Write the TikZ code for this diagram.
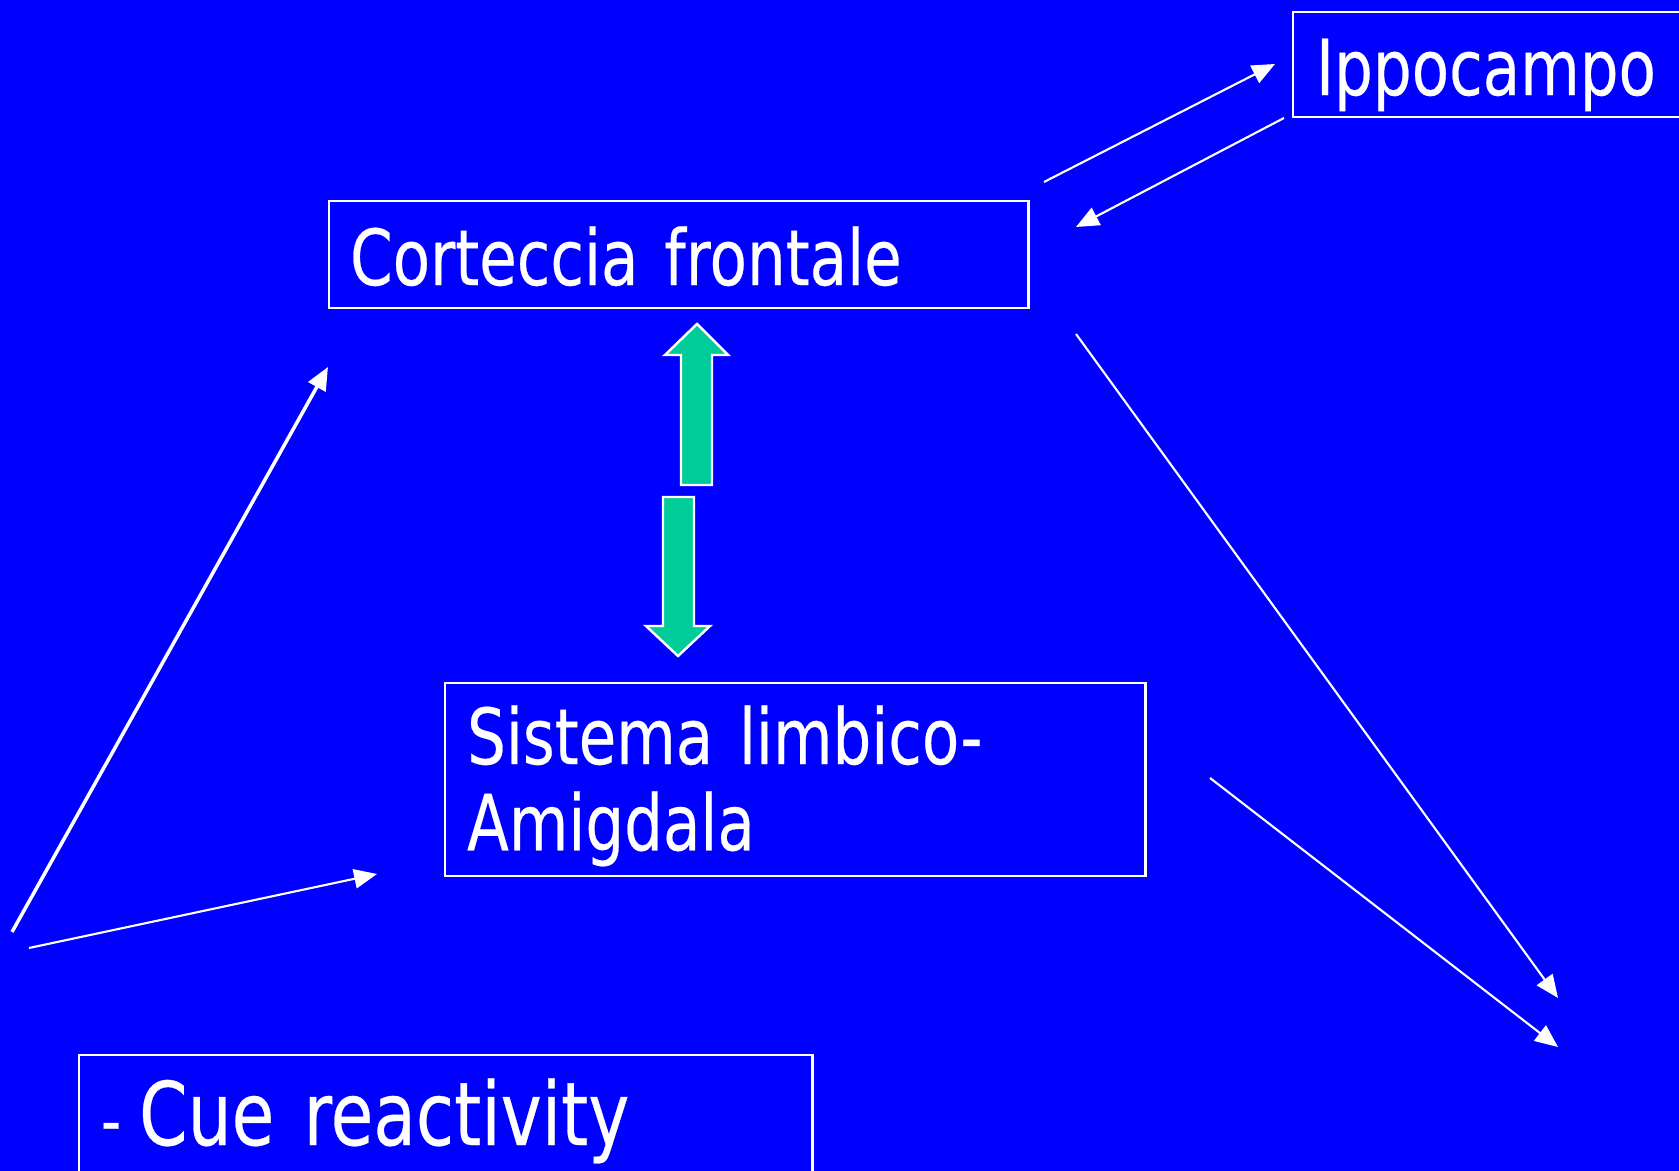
\documentclass[tikz,border=0pt]{standalone}
\usepackage{fontspec}
\setmainfont{DejaVu Sans}[FakeStretch=0.79, FakeBold=0.3]
\usetikzlibrary{arrows.meta}
\definecolor{slideblue}{RGB}{0,0,255}
\definecolor{arrowgreen}{RGB}{0,204,153}
\newcommand\boxfont[2]{\fontsize{#1}{#2}\selectfont\spaceskip=0.18em\relax}

\begin{document}
\begin{tikzpicture}
    [x=0.01cm, y=-0.01cm,
     box/.style={draw=white, line width=0.6pt, text=white, anchor=north west,
       inner ysep=0pt, align=left, font=\boxfont{22}{24.5}},
     link/.style={white, line width=0.6pt, -{Triangle[length=6.5pt, width=5.5pt]}},
     updown/.style={fill=arrowgreen, draw=white, line width=0.7pt}]
    \fill[slideblue] (0,0) rectangle (1679,1171);
    \useasboundingbox (0,0) rectangle (1679,1171);
    \node[box, inner xsep=0.23cm, text width=3.85cm, text height=0.83cm, text depth=0.22cm]
      (ippocampo) at (1292,11) {Ippocampo};
    \node[box, inner xsep=0.21cm, text width=6.57cm, text height=0.84cm, text depth=0.23cm]
      (corteccia) at (328,200) {Corteccia frontale};
    \node[box, inner xsep=0.22cm, text width=6.56cm, text height=0.81cm, text depth=1.12cm]
      (limbico) at (444,682) {Sistema limbico-\\Amigdala};
    \node[box, inner xsep=0.22cm, text width=6.89cm, text height=0.90cm, text depth=0.6cm,
      font=\boxfont{25}{28}]
      (cue) at (78,1054) {{\fontsize{20}{22}\selectfont -}\hspace{0.18cm}Cue reactivity};
    \coordinate (cf out) at (1044,182);
    \coordinate (ip in) at (1275,64);
    \coordinate (ip out) at (1284,118);
    \coordinate (cf in) at (1076,227);
    \coordinate (cf right) at (1076,334);
    \coordinate (end a) at (1558,998);
    \coordinate (sl right) at (1210,778);
    \coordinate (end b) at (1558,1047);
    \coordinate (start a) at (12,932);
    \coordinate (cf left) at (328,367);
    \coordinate (start b) at (29,948);
    \coordinate (sl left) at (377,874);
    \draw[link] (cf out) -- (ip in);
    \draw[link] (ip out) -- (cf in);
    \draw[link] (cf right) -- (end a);
    \draw[link] (sl right) -- (end b);
    \draw[link, line width=1pt] (start a) -- (cf left);
    \draw[link] (start b) -- (sl left);
    \draw[updown] (697,324) -- (728,355) -- (712,355) -- (712,485) -- (681,485)
      -- (681,355) -- (665,355) -- cycle;
    \draw[updown] (663,497) -- (694,497) -- (694,626) -- (710,626) -- (678,656)
      -- (646,626) -- (663,626) -- cycle;
\end{tikzpicture}
\end{document}
